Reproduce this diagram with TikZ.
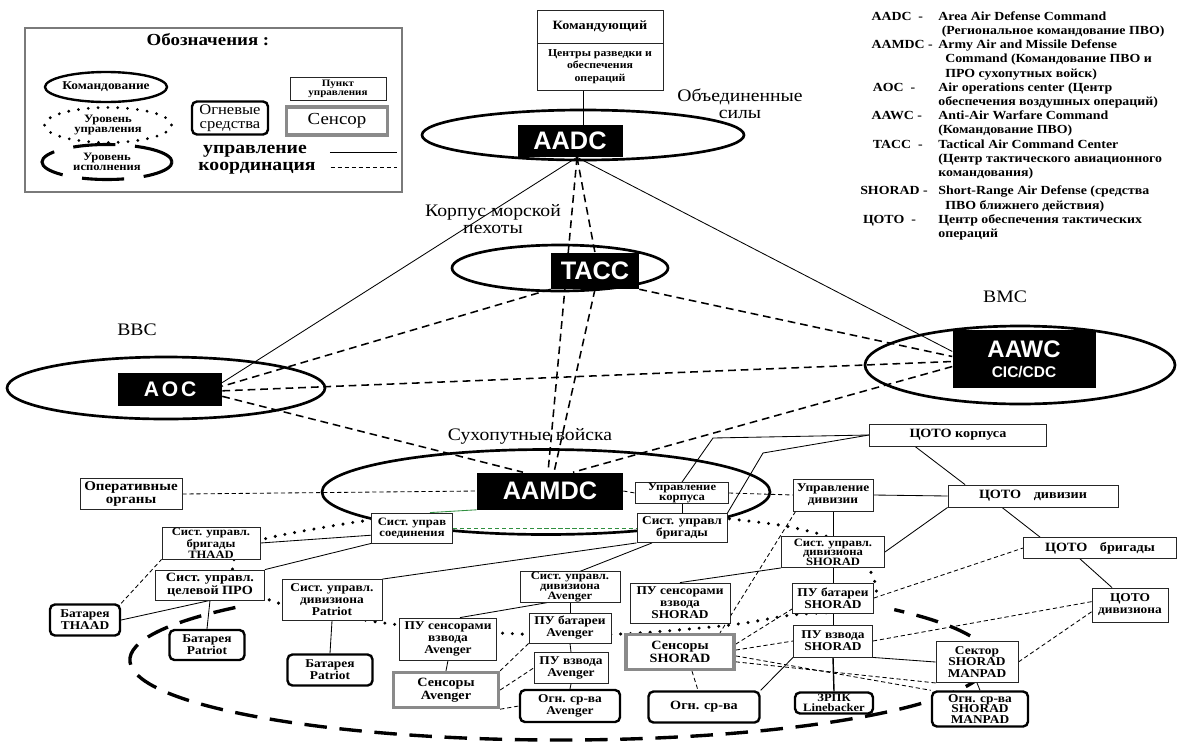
\documentclass[tikz,border=0pt]{standalone}
\usepackage{fontspec}
\setmainfont{Liberation Serif}[FakeStretch=1.12]
\newfontfamily\blkfont{Liberation Sans}
\usetikzlibrary{shapes.geometric, backgrounds, calc}
\definecolor{SensGray}{HTML}{8A8A8A}
\definecolor{LinkGreen}{HTML}{2F8F3F}
\definecolor{FrameGray}{HTML}{7A7A7A}
\tikzset{
  wh/.code 2 args={\pgfmathsetlengthmacro\whw{#1*0.025cm}\pgfmathsetlengthmacro\whh{#2*0.025cm}%
    \edef\whtmp{\noexpand\pgfkeysalso{minimum width=\whw, minimum height=\whh}}\whtmp},
  tx/.style 2 args={font=\bfseries\fontsize{#1}{#2}\selectfont},
  pubox/.style={draw=black!85, line width=0.6pt, fill=white, align=center, inner sep=0.5pt, tx={8.5}{8.5}},
  ogbox/.style={draw=black, line width=1.7pt, rounded corners=3.5pt, fill=white, align=center, inner sep=0.5pt, tx={8.5}{8.5}},
  senbox/.style={draw=SensGray, line width=2.4pt, fill=white, align=center, inner sep=0.5pt, tx={9}{9.5}},
  blkbox/.style={fill=black, text=white, align=center, inner sep=0pt, font=\blkfont\bfseries\fontsize{18}{18}\selectfont},
  cmdell/.style={draw=black, line width=1.9pt, ellipse, inner sep=0pt},
  lbl/.style={align=center, inner sep=0pt, font=\fontsize{12.5}{12.5}\selectfont},
  ctl/.style={draw=black, line width=0.6pt},
  crd/.style={draw=black, line width=1.1pt, dash pattern=on 5.5pt off 3.5pt},
  crds/.style={draw=black, line width=0.6pt, dash pattern=on 3pt off 2pt},
  ctllvl/.style={draw=black, line width=2.4pt, dash pattern=on 0pt off 7pt, line cap=round},
  exelvl/.style={draw=black, line width=2.4pt, dash pattern=on 16pt off 9pt},
}
\begin{document}
\begin{tikzpicture}[x=0.025cm, y=-0.025cm]
  \useasboundingbox (0,0) rectangle (1178,744);
  % legend
  \node[draw=FrameGray, line width=0.8pt, wh={377}{164}] (lgf) at (213.5,110) {};
  \node[tx={12}{12}] (lgt) at (208,40) {Обозначения :};
  \node[cmdell, line width=1.7pt, wh={122}{30}] (lgc) at (106,87) {};
  \node[tx={8.5}{8.5}] (lgct) at (lgc) {Командование};
  \node[ellipse, ctllvl, line width=2.2pt, wh={127}{35}] (lgu) at (108,125) {};
  \node[tx={8}{7.5}, align=center] (lgut) at (lgu) {Уровень\\управления};
  \node[ellipse, exelvl, line width=2.2pt, dash pattern=on 30pt off 14pt, wh={130}{35}] (lge) at (107,162) {};
  \node[tx={8}{7.5}, align=center] (lget) at (lge) {Уровень\\исполнения};
  \node[ogbox, wh={76}{33}, font=\fontsize{10.5}{9.5}\selectfont] (lgo) at (230,118) {Огневые\\средства};
  \node[pubox, wh={96}{23}, tx={7}{6.5}] (lgp) at (338,89) {Пункт\\управления};
  \node[senbox, wh={101}{28}, font=\fontsize{12}{12}\selectfont] (lgs) at (337,121) {Сенсор};
  \node[tx={12.5}{12.5}] (lgw1) at (255,151) {управление};
  \node[tx={12.5}{12.5}] (lgw2) at (257,168) {координация};
  \draw[ctl] (lgw1.east) ++(18,1) -- ++(67,0);
  \draw[crds] (lgw2.east) ++(10,-1) -- ++(66,0);
  % abbreviations
  \node[anchor=north west, inner sep=0pt, tx={8.8}{10.1}] (abbr) at (860,10) {%
    \begin{tabular}{@{}l@{\hspace{4pt}}l@{}}
    \hspace{8pt}AADC\ \ - & Area Air Defense Command\\
     & \ (Региональное командование ПВО)\\
    \hspace{8pt}AAMDC - & Army Air and Missile Defense\\
     & \ \ Command (Командование ПВО и\\
     & \ \ ПРО сухопутных войск)\\
    \hspace{9pt}AOC\ \ - & Air operations center (Центр\\
     & обеспечения воздушных операций)\\
    \hspace{8pt}AAWC - & Anti-Air Warfare Command\\
     & (Командование ПВО)\\
    \hspace{9pt}TACC\ \ - & Tactical Air Command Center\\
     & (Центр тактического авиационного\\
     & командования)\\[3pt]
    SHORAD - & Short-Range Air Defense (средства\\
     & \ \ ПВО ближнего действия)\\
    \hspace{2pt}ЦОТО\ \ - & Центр обеспечения тактических\\
     & операций
    \end{tabular}};
  % top command
  \node[pubox, wh={126}{33}, tx={9}{9}] (kom) at (600,26.5) {Командующий};
  \node[pubox, wh={126}{47}, tx={7.5}{8.8}] (czr) at (600,66.5) {Центры разведки и\\обеспечения\\операций};
  \node[cmdell, wh={322}{50}] (aadce) at (583,135) {};
  \node[blkbox, wh={105}{32}] (aadcb) at (570,141) {AADC};
  \node[cmdell, wh={216}{46}] (tacce) at (560,268) {};
  \node[blkbox, wh={88}{36}] (taccb) at (595,271) {TACC};
  \node[cmdell, wh={318}{62}] (aoce) at (166,388) {};
  \node[blkbox, wh={104}{33}, font=\blkfont\bfseries\fontsize{15}{15}\selectfont] (aocb) at (170,389) {A\kern2pt O\kern2pt C};
  \node[cmdell, wh={310}{78}] (aawce) at (1020,365) {};
  \node[blkbox, wh={143}{58}, font=\blkfont\bfseries\fontsize{17}{14}\selectfont] (aawcb) at (1024,359) {AAWC\\{\fontsize{11}{11}\selectfont CIC/CDC}};
  \node[cmdell, wh={448}{85}] (aamdce) at (546,492) {};
  \node[blkbox, wh={146}{37}] (aamdcb) at (550,491) {AAMDC};
  \node[lbl] (lobs) at (740,104) {Объединенные\\силы};
  \node[lbl] (lkmp) at (493,219) {Корпус морской\\пехоты};
  \node[lbl] (lvvs) at (137,330) {ВВС};
  \node[lbl] (lvms) at (1005,297) {ВМС};
  \node[lbl] (lsv) at (530,436) {Сухопутные войска};
  % ground forces
  \node[pubox, wh={102}{31}, tx={9.5}{9.5}] (opo) at (131,494) {Оперативные\\органы};
  \node[pubox, wh={93}{20}, tx={8}{7}] (upk) at (682,493) {Управление\\корпуса};
  \node[pubox, wh={90}{29}] (sbr) at (682,528) {Сист. управл\\бригады};
  \node[pubox, wh={81}{30}, tx={8}{8}] (sso) at (412,528) {Сист. управ\\соединения};
  \node[pubox, wh={98}{30}, tx={8}{6.8}] (sth) at (211,543) {Сист. управл.\\бригады\\THAAD};
  \node[pubox, wh={109}{30}, tx={9}{9.5}] (spr) at (210,585) {Сист. управл.\\целевой ПРО};
  \node[pubox, wh={100}{41}] (spt) at (332,600) {Сист. управл.\\дивизиона\\Patriot};
  \node[ogbox, wh={70}{31}] (bth) at (85,620) {Батарея\\THAAD};
  \node[ogbox, wh={75}{30}] (bp1) at (207,645) {Батарея\\Patriot};
  \node[ogbox, wh={85}{31}] (bp2) at (330,670) {Батарея\\Patriot};
  \node[pubox, wh={100}{30}, tx={8}{6.8}] (sav) at (570,587) {Сист. управл.\\дивизиона\\Avenger};
  \node[pubox, wh={100}{40}] (pss) at (680,603) {ПУ сенсорами\\взвода\\SHORAD};
  \node[pubox, wh={97}{42}] (psa) at (448,639) {ПУ сенсорами\\взвода\\Avenger};
  \node[pubox, wh={82}{30}] (pba) at (570,628) {ПУ батареи\\Avenger};
  \node[pubox, wh={74}{31}] (pva) at (571,668) {ПУ взвода\\Avenger};
  \node[senbox, wh={105}{35}] (sna) at (446,690) {Сенсоры\\Avenger};
  \node[ogbox, wh={100}{32}] (oga) at (570,706) {Огн. ср-ва\\Avenger};
  \node[senbox, wh={108}{35}] (sns) at (680,652) {Сенсоры\\SHORAD};
  \node[ogbox, wh={111}{31}, tx={9}{9}] (ogs) at (704,707) {Огн. ср-ва};
  \node[pubox, wh={177}{22}, tx={9}{9}] (cok) at (958,435) {ЦОТО корпуса};
  \node[pubox, wh={80}{32}] (upd) at (833,495) {Управление\\дивизии};
  \node[pubox, wh={170}{22}, tx={9}{9}] (cod) at (1033,496) {ЦОТО\quad дивизии};
  \node[pubox, wh={103}{31}, tx={8}{6.8}] (ssh) at (833,552) {Сист. управл.\\дивизиона\\SHORAD};
  \node[pubox, wh={153}{21}, tx={9}{9}] (cob) at (1100,548) {ЦОТО\quad бригады};
  \node[pubox, wh={81}{30}] (pbs) at (833,598) {ПУ батареи\\SHORAD};
  \node[pubox, wh={76}{34}] (cdn) at (1130,605) {ЦОТО\\дивизиона};
  \node[pubox, wh={79}{32}] (pvs) at (833,641) {ПУ взвода\\SHORAD};
  \node[pubox, wh={82}{41}, tx={8.5}{8}] (sek) at (977,662) {Сектор\\SHORAD\\MANPAD};
  \node[ogbox, wh={78}{21}, tx={8}{7}] (zrk) at (834,703) {ЗРПК\\Linebacker};
  \node[ogbox, wh={96}{35}, tx={8.5}{7.5}] (ogm) at (980,709) {Огн. ср-ва\\SHORAD\\MANPAD};
  \coordinate (aadcf) at ($(aadcb.south)+(7,0)$);
  \coordinate (bk1) at (713,438);
  \coordinate (bk2) at (763,453);
  \begin{scope}[on background layer]
    \draw[ctl] ($(czr.south)+(-17,0)$) -- ($(aadcb.north)+(13,0)$);
    \draw[ctl] (aadcf) -- (aocb.7);
    \draw[ctl] (aadcf) -- (aawcb.174);
    \draw[crd] (aadcf) -- ($(aamdcb.north)+(-2,0)$);
    \draw[crd] (aadcf) -- (taccb.north);
    \draw[crd] (taccb.south) -- ($(aamdcb.north)+(4,0)$);
    \draw[crd] (taccb.south west) -- (aocb.3);
    \draw[crd] (taccb.south east) -- (aawcb.178);
    \draw[crd] (aocb.-2) -- (aawcb.182);
    \draw[crd] (aocb.-8) -- ($(aamdcb.north)+(-27,0)$);
    \draw[crd] (aawcb.186) -- ($(aamdcb.north)+(23,0)$);
    % levels
    \draw[ctllvl] plot[smooth, tension=0.55] coordinates {(700,516) (740,520) (790,527) (836,540)
      (866,564) (876,594) (852,610) (792,615) (730,625) (620,634) (520,634) (400,625) (320,612)
      (272,601) (242,583) (232,565) (245,547) (268,538) (320,528) (372,520) (400,521)};
    \draw[exelvl] (560,660) ++(139:10.75cm and 2cm) arc[start angle=139, end angle=399, x radius=10.75cm, y radius=2cm];
    \draw[crds] (opo.east) -- (aamdcb.west);
    \draw[crds] (aamdcb.east) -- (upk.west);
    \draw[crds] (upk.east) -- (upd.west);
    \draw[LinkGreen, line width=0.6pt] (aamdcb.south west) -- ($(sso.north)+(18,0)$);
    \draw[crds, draw=LinkGreen] (sso.east) -- (sbr.west);
    \draw[ctl] (cok.west) -- (bk1) -- (upk.north);
    \draw[ctl] (cok.west) -- (bk2) -- (sbr.north east);
    \draw[ctl] (upk.south) -- (sbr.north);
    \draw[ctl] ($(sbr.south)+(-30,0)$) -- ($(sav.north)+(10,0)$);
    \draw[ctl] (sbr.south west) -- (spt.north east);
    \draw[ctl] (sso.190) -- (sth.east);
    \draw[ctl] (sso.south west) -- (spr.north east);
    \draw[ctl] (spr.south) -- (bp1.north);
    \draw[ctl] (spr.south) -- (bth.east);
    \draw[crds] (bth.north east) -- (sth.south west);
    \draw[ctl] (spt.south) -- (bp2.north);
    \draw[ctl] (sav.south) -- (pba.north);
    \draw[ctl] (pba.south) -- (pva.north);
    \draw[ctl] (pva.south) -- (oga.north);
    \draw[ctl] ($(sav.south)+(-23,0)$) -- ($(psa.north)+(12,0)$);
    \draw[ctl] (psa.south) -- (sna.north);
    \draw[crds] (sna.north east) -- (pba.south west);
    \draw[crds] (sna.east) -- (pva.west);
    \draw[crds] (sna.south east) -- (oga.west);
    \draw[ctl] ($(cok.south)+(-43,0)$) -- ($(cod.north)+(-68,0)$);
    \draw[ctl] (upd.east) -- (cod.west);
    \draw[ctl] (upd.south) -- (ssh.north);
    \draw[ctl] (ssh.east) -- (cod.south west);
    \draw[ctl] ($(cod.south)+(-31,0)$) -- ($(cob.north)+(-60,0)$);
    \draw[ctl] ($(cob.south)+(-20,0)$) -- ($(cdn.north)+(-18,0)$);
    \draw[ctl] (ssh.south) -- (pbs.north);
    \draw[ctl] (pbs.south) -- (pvs.north);
    \draw[ctl, line width=1pt] (pvs.south) -- (zrk.north);
    \draw[ctl] (sek.south) -- (ogm.north);
    \draw[ctl] (ssh.south west) -- (pss.north);
    \draw[ctl] (ogs.north east) -- (pvs.south west);
    \draw[ctl] (pvs.south east) -- (sek.west);
    \draw[crds] (cdn.190) -- (sek.east);
    \draw[crds] (pvs.east) -- (cdn.175);
    \draw[crds] (pbs.east) -- (cob.west);
    \draw[crds] (sns.8) -- (pbs.-165);
    \draw[crds] (sns.2) -- (pvs.west);
    \draw[crds] (sns.-4) -- (ogm.north west);
    \draw[crds] (sns.-10) -- (sek.south west);
    \draw[crds] ($(upd.south west)+(3,0)$) -- ($(sns.north)+(40,0)$);
    \draw[crds] ($(sns.south)+(12,0)$) -- ($(ogs.north)+(-6,0)$);
  \end{scope}
\end{tikzpicture}
\end{document}
